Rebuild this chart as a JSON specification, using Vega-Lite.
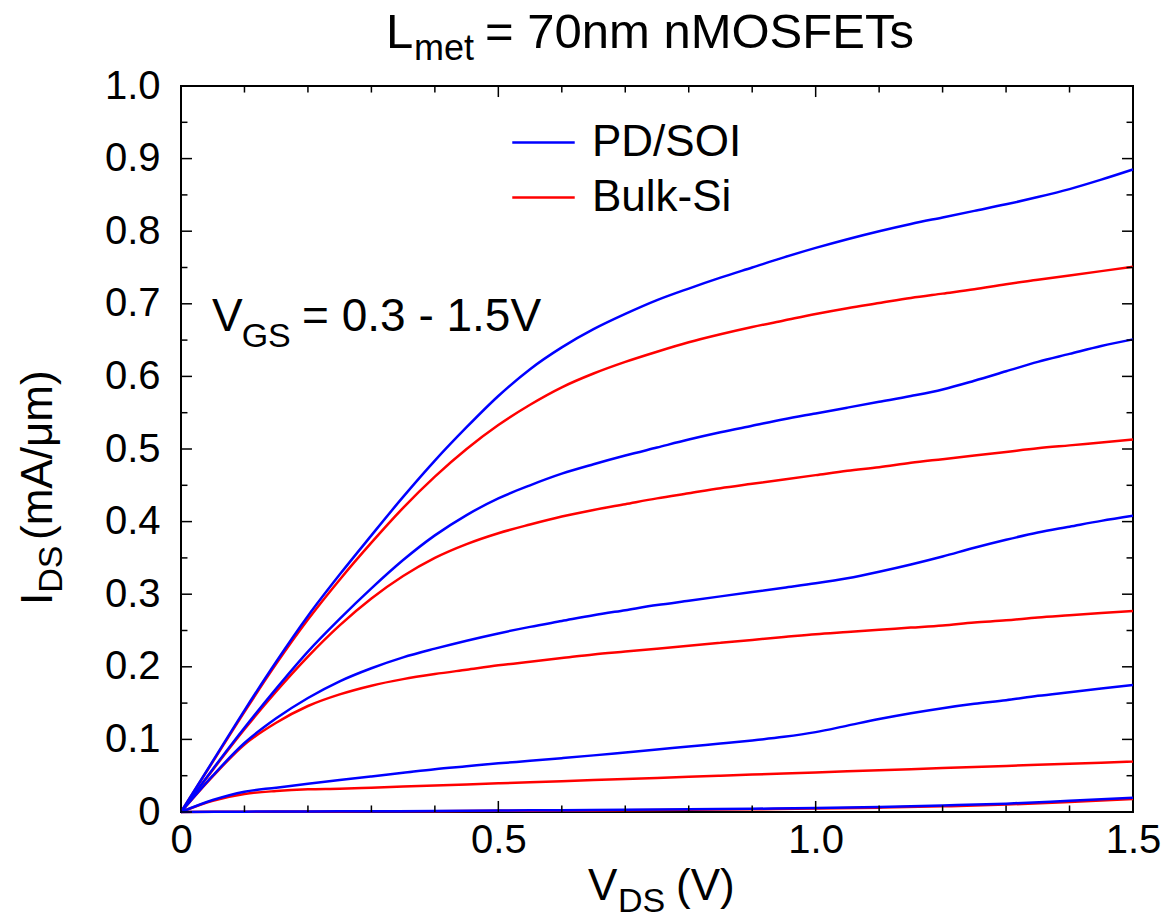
{
  "$schema": "https://vega.github.io/schema/vega-lite/v6.json",
  "width": 952,
  "height": 726,
  "autosize": {"type": "none"},
  "padding": {"left": 181, "top": 86, "right": 39, "bottom": 111},
  "background": "white",
  "config": {
    "view": {"stroke": "black", "strokeWidth": 2},
    "font": "Liberation Sans",
    "axis": {"grid": false, "domain": false, "ticks": false, "labelFont": "Liberation Sans", "labelFontSize": 40, "labelColor": "black", "labelFlush": false, "labelOverlap": false},
    "legend": {"orient": "none", "legendX": 330, "legendY": 24, "symbolType": "M-1,0L1,0", "symbolSize": 3900, "symbolStrokeWidth": 2.5, "labelFont": "Liberation Sans", "labelFontSize": 44, "labelColor": "black", "labelOffset": 16, "rowPadding": -13, "labelLimit": 0, "padding": 0}
  },
  "datasets": {
    "curves": [
      {"device":"PD/SOI","vgs":1.5,"vds":0,"ids":0},{"device":"PD/SOI","vgs":1.5,"vds":0.05,"ids":0.07},{"device":"PD/SOI","vgs":1.5,"vds":0.1,"ids":0.14},{"device":"PD/SOI","vgs":1.5,"vds":0.15,"ids":0.207},{"device":"PD/SOI","vgs":1.5,"vds":0.2,"ids":0.27},{"device":"PD/SOI","vgs":1.5,"vds":0.25,"ids":0.327},{"device":"PD/SOI","vgs":1.5,"vds":0.3,"ids":0.381},{"device":"PD/SOI","vgs":1.5,"vds":0.35,"ids":0.434},{"device":"PD/SOI","vgs":1.5,"vds":0.4,"ids":0.484},{"device":"PD/SOI","vgs":1.5,"vds":0.45,"ids":0.53},{"device":"PD/SOI","vgs":1.5,"vds":0.5,"ids":0.573},{"device":"PD/SOI","vgs":1.5,"vds":0.55,"ids":0.61},{"device":"PD/SOI","vgs":1.5,"vds":0.6,"ids":0.64},{"device":"PD/SOI","vgs":1.5,"vds":0.65,"ids":0.665},{"device":"PD/SOI","vgs":1.5,"vds":0.7,"ids":0.686},{"device":"PD/SOI","vgs":1.5,"vds":0.75,"ids":0.705},{"device":"PD/SOI","vgs":1.5,"vds":0.8,"ids":0.721},{"device":"PD/SOI","vgs":1.5,"vds":0.85,"ids":0.736},{"device":"PD/SOI","vgs":1.5,"vds":0.9,"ids":0.75},{"device":"PD/SOI","vgs":1.5,"vds":0.95,"ids":0.764},{"device":"PD/SOI","vgs":1.5,"vds":1.0,"ids":0.777},{"device":"PD/SOI","vgs":1.5,"vds":1.05,"ids":0.789},{"device":"PD/SOI","vgs":1.5,"vds":1.1,"ids":0.8},{"device":"PD/SOI","vgs":1.5,"vds":1.15,"ids":0.81},{"device":"PD/SOI","vgs":1.5,"vds":1.2,"ids":0.819},{"device":"PD/SOI","vgs":1.5,"vds":1.25,"ids":0.828},{"device":"PD/SOI","vgs":1.5,"vds":1.3,"ids":0.837},{"device":"PD/SOI","vgs":1.5,"vds":1.35,"ids":0.847},{"device":"PD/SOI","vgs":1.5,"vds":1.4,"ids":0.858},{"device":"PD/SOI","vgs":1.5,"vds":1.45,"ids":0.871},{"device":"PD/SOI","vgs":1.5,"vds":1.5,"ids":0.885},
      {"device":"Bulk-Si","vgs":1.5,"vds":0,"ids":0},{"device":"Bulk-Si","vgs":1.5,"vds":0.05,"ids":0.069},{"device":"Bulk-Si","vgs":1.5,"vds":0.1,"ids":0.138},{"device":"Bulk-Si","vgs":1.5,"vds":0.15,"ids":0.204},{"device":"Bulk-Si","vgs":1.5,"vds":0.2,"ids":0.265},{"device":"Bulk-Si","vgs":1.5,"vds":0.25,"ids":0.32},{"device":"Bulk-Si","vgs":1.5,"vds":0.3,"ids":0.371},{"device":"Bulk-Si","vgs":1.5,"vds":0.35,"ids":0.419},{"device":"Bulk-Si","vgs":1.5,"vds":0.4,"ids":0.462},{"device":"Bulk-Si","vgs":1.5,"vds":0.45,"ids":0.5},{"device":"Bulk-Si","vgs":1.5,"vds":0.5,"ids":0.533},{"device":"Bulk-Si","vgs":1.5,"vds":0.55,"ids":0.561},{"device":"Bulk-Si","vgs":1.5,"vds":0.6,"ids":0.585},{"device":"Bulk-Si","vgs":1.5,"vds":0.65,"ids":0.604},{"device":"Bulk-Si","vgs":1.5,"vds":0.7,"ids":0.62},{"device":"Bulk-Si","vgs":1.5,"vds":0.75,"ids":0.634},{"device":"Bulk-Si","vgs":1.5,"vds":0.8,"ids":0.647},{"device":"Bulk-Si","vgs":1.5,"vds":0.85,"ids":0.658},{"device":"Bulk-Si","vgs":1.5,"vds":0.9,"ids":0.668},{"device":"Bulk-Si","vgs":1.5,"vds":0.95,"ids":0.677},{"device":"Bulk-Si","vgs":1.5,"vds":1.0,"ids":0.686},{"device":"Bulk-Si","vgs":1.5,"vds":1.05,"ids":0.694},{"device":"Bulk-Si","vgs":1.5,"vds":1.1,"ids":0.701},{"device":"Bulk-Si","vgs":1.5,"vds":1.15,"ids":0.708},{"device":"Bulk-Si","vgs":1.5,"vds":1.2,"ids":0.714},{"device":"Bulk-Si","vgs":1.5,"vds":1.25,"ids":0.72},{"device":"Bulk-Si","vgs":1.5,"vds":1.3,"ids":0.727},{"device":"Bulk-Si","vgs":1.5,"vds":1.35,"ids":0.733},{"device":"Bulk-Si","vgs":1.5,"vds":1.4,"ids":0.739},{"device":"Bulk-Si","vgs":1.5,"vds":1.45,"ids":0.745},{"device":"Bulk-Si","vgs":1.5,"vds":1.5,"ids":0.751},
      {"device":"PD/SOI","vgs":1.2,"vds":0,"ids":0},{"device":"PD/SOI","vgs":1.2,"vds":0.05,"ids":0.059},{"device":"PD/SOI","vgs":1.2,"vds":0.1,"ids":0.116},{"device":"PD/SOI","vgs":1.2,"vds":0.15,"ids":0.17},{"device":"PD/SOI","vgs":1.2,"vds":0.2,"ids":0.221},{"device":"PD/SOI","vgs":1.2,"vds":0.25,"ids":0.266},{"device":"PD/SOI","vgs":1.2,"vds":0.3,"ids":0.308},{"device":"PD/SOI","vgs":1.2,"vds":0.35,"ids":0.347},{"device":"PD/SOI","vgs":1.2,"vds":0.4,"ids":0.381},{"device":"PD/SOI","vgs":1.2,"vds":0.45,"ids":0.409},{"device":"PD/SOI","vgs":1.2,"vds":0.5,"ids":0.432},{"device":"PD/SOI","vgs":1.2,"vds":0.55,"ids":0.45},{"device":"PD/SOI","vgs":1.2,"vds":0.6,"ids":0.466},{"device":"PD/SOI","vgs":1.2,"vds":0.65,"ids":0.479},{"device":"PD/SOI","vgs":1.2,"vds":0.7,"ids":0.491},{"device":"PD/SOI","vgs":1.2,"vds":0.75,"ids":0.502},{"device":"PD/SOI","vgs":1.2,"vds":0.8,"ids":0.513},{"device":"PD/SOI","vgs":1.2,"vds":0.85,"ids":0.523},{"device":"PD/SOI","vgs":1.2,"vds":0.9,"ids":0.532},{"device":"PD/SOI","vgs":1.2,"vds":0.95,"ids":0.541},{"device":"PD/SOI","vgs":1.2,"vds":1.0,"ids":0.549},{"device":"PD/SOI","vgs":1.2,"vds":1.05,"ids":0.557},{"device":"PD/SOI","vgs":1.2,"vds":1.1,"ids":0.565},{"device":"PD/SOI","vgs":1.2,"vds":1.15,"ids":0.573},{"device":"PD/SOI","vgs":1.2,"vds":1.2,"ids":0.582},{"device":"PD/SOI","vgs":1.2,"vds":1.25,"ids":0.594},{"device":"PD/SOI","vgs":1.2,"vds":1.3,"ids":0.607},{"device":"PD/SOI","vgs":1.2,"vds":1.35,"ids":0.62},{"device":"PD/SOI","vgs":1.2,"vds":1.4,"ids":0.631},{"device":"PD/SOI","vgs":1.2,"vds":1.45,"ids":0.642},{"device":"PD/SOI","vgs":1.2,"vds":1.5,"ids":0.651},
      {"device":"Bulk-Si","vgs":1.2,"vds":0,"ids":0},{"device":"Bulk-Si","vgs":1.2,"vds":0.05,"ids":0.058},{"device":"Bulk-Si","vgs":1.2,"vds":0.1,"ids":0.114},{"device":"Bulk-Si","vgs":1.2,"vds":0.15,"ids":0.166},{"device":"Bulk-Si","vgs":1.2,"vds":0.2,"ids":0.214},{"device":"Bulk-Si","vgs":1.2,"vds":0.25,"ids":0.257},{"device":"Bulk-Si","vgs":1.2,"vds":0.3,"ids":0.294},{"device":"Bulk-Si","vgs":1.2,"vds":0.35,"ids":0.325},{"device":"Bulk-Si","vgs":1.2,"vds":0.4,"ids":0.35},{"device":"Bulk-Si","vgs":1.2,"vds":0.45,"ids":0.369},{"device":"Bulk-Si","vgs":1.2,"vds":0.5,"ids":0.384},{"device":"Bulk-Si","vgs":1.2,"vds":0.55,"ids":0.396},{"device":"Bulk-Si","vgs":1.2,"vds":0.6,"ids":0.407},{"device":"Bulk-Si","vgs":1.2,"vds":0.65,"ids":0.416},{"device":"Bulk-Si","vgs":1.2,"vds":0.7,"ids":0.424},{"device":"Bulk-Si","vgs":1.2,"vds":0.75,"ids":0.432},{"device":"Bulk-Si","vgs":1.2,"vds":0.8,"ids":0.439},{"device":"Bulk-Si","vgs":1.2,"vds":0.85,"ids":0.446},{"device":"Bulk-Si","vgs":1.2,"vds":0.9,"ids":0.452},{"device":"Bulk-Si","vgs":1.2,"vds":0.95,"ids":0.458},{"device":"Bulk-Si","vgs":1.2,"vds":1.0,"ids":0.464},{"device":"Bulk-Si","vgs":1.2,"vds":1.05,"ids":0.47},{"device":"Bulk-Si","vgs":1.2,"vds":1.1,"ids":0.475},{"device":"Bulk-Si","vgs":1.2,"vds":1.15,"ids":0.481},{"device":"Bulk-Si","vgs":1.2,"vds":1.2,"ids":0.486},{"device":"Bulk-Si","vgs":1.2,"vds":1.25,"ids":0.491},{"device":"Bulk-Si","vgs":1.2,"vds":1.3,"ids":0.496},{"device":"Bulk-Si","vgs":1.2,"vds":1.35,"ids":0.501},{"device":"Bulk-Si","vgs":1.2,"vds":1.4,"ids":0.505},{"device":"Bulk-Si","vgs":1.2,"vds":1.45,"ids":0.509},{"device":"Bulk-Si","vgs":1.2,"vds":1.5,"ids":0.513},
      {"device":"PD/SOI","vgs":0.9,"vds":0,"ids":0},{"device":"PD/SOI","vgs":0.9,"vds":0.05,"ids":0.05},{"device":"PD/SOI","vgs":0.9,"vds":0.1,"ids":0.095},{"device":"PD/SOI","vgs":0.9,"vds":0.15,"ids":0.129},{"device":"PD/SOI","vgs":0.9,"vds":0.2,"ids":0.157},{"device":"PD/SOI","vgs":0.9,"vds":0.25,"ids":0.18},{"device":"PD/SOI","vgs":0.9,"vds":0.3,"ids":0.198},{"device":"PD/SOI","vgs":0.9,"vds":0.35,"ids":0.213},{"device":"PD/SOI","vgs":0.9,"vds":0.4,"ids":0.225},{"device":"PD/SOI","vgs":0.9,"vds":0.45,"ids":0.236},{"device":"PD/SOI","vgs":0.9,"vds":0.5,"ids":0.246},{"device":"PD/SOI","vgs":0.9,"vds":0.55,"ids":0.255},{"device":"PD/SOI","vgs":0.9,"vds":0.6,"ids":0.263},{"device":"PD/SOI","vgs":0.9,"vds":0.65,"ids":0.271},{"device":"PD/SOI","vgs":0.9,"vds":0.7,"ids":0.278},{"device":"PD/SOI","vgs":0.9,"vds":0.75,"ids":0.285},{"device":"PD/SOI","vgs":0.9,"vds":0.8,"ids":0.291},{"device":"PD/SOI","vgs":0.9,"vds":0.85,"ids":0.297},{"device":"PD/SOI","vgs":0.9,"vds":0.9,"ids":0.303},{"device":"PD/SOI","vgs":0.9,"vds":0.95,"ids":0.309},{"device":"PD/SOI","vgs":0.9,"vds":1.0,"ids":0.315},{"device":"PD/SOI","vgs":0.9,"vds":1.05,"ids":0.322},{"device":"PD/SOI","vgs":0.9,"vds":1.1,"ids":0.331},{"device":"PD/SOI","vgs":0.9,"vds":1.15,"ids":0.341},{"device":"PD/SOI","vgs":0.9,"vds":1.2,"ids":0.352},{"device":"PD/SOI","vgs":0.9,"vds":1.25,"ids":0.364},{"device":"PD/SOI","vgs":0.9,"vds":1.3,"ids":0.375},{"device":"PD/SOI","vgs":0.9,"vds":1.35,"ids":0.385},{"device":"PD/SOI","vgs":0.9,"vds":1.4,"ids":0.393},{"device":"PD/SOI","vgs":0.9,"vds":1.45,"ids":0.401},{"device":"PD/SOI","vgs":0.9,"vds":1.5,"ids":0.408},
      {"device":"Bulk-Si","vgs":0.9,"vds":0,"ids":0},{"device":"Bulk-Si","vgs":0.9,"vds":0.05,"ids":0.049},{"device":"Bulk-Si","vgs":0.9,"vds":0.1,"ids":0.093},{"device":"Bulk-Si","vgs":0.9,"vds":0.15,"ids":0.123},{"device":"Bulk-Si","vgs":0.9,"vds":0.2,"ids":0.146},{"device":"Bulk-Si","vgs":0.9,"vds":0.25,"ids":0.162},{"device":"Bulk-Si","vgs":0.9,"vds":0.3,"ids":0.174},{"device":"Bulk-Si","vgs":0.9,"vds":0.35,"ids":0.183},{"device":"Bulk-Si","vgs":0.9,"vds":0.4,"ids":0.19},{"device":"Bulk-Si","vgs":0.9,"vds":0.45,"ids":0.196},{"device":"Bulk-Si","vgs":0.9,"vds":0.5,"ids":0.202},{"device":"Bulk-Si","vgs":0.9,"vds":0.55,"ids":0.207},{"device":"Bulk-Si","vgs":0.9,"vds":0.6,"ids":0.212},{"device":"Bulk-Si","vgs":0.9,"vds":0.65,"ids":0.217},{"device":"Bulk-Si","vgs":0.9,"vds":0.7,"ids":0.221},{"device":"Bulk-Si","vgs":0.9,"vds":0.75,"ids":0.225},{"device":"Bulk-Si","vgs":0.9,"vds":0.8,"ids":0.229},{"device":"Bulk-Si","vgs":0.9,"vds":0.85,"ids":0.233},{"device":"Bulk-Si","vgs":0.9,"vds":0.9,"ids":0.237},{"device":"Bulk-Si","vgs":0.9,"vds":0.95,"ids":0.241},{"device":"Bulk-Si","vgs":0.9,"vds":1.0,"ids":0.245},{"device":"Bulk-Si","vgs":0.9,"vds":1.05,"ids":0.248},{"device":"Bulk-Si","vgs":0.9,"vds":1.1,"ids":0.251},{"device":"Bulk-Si","vgs":0.9,"vds":1.15,"ids":0.254},{"device":"Bulk-Si","vgs":0.9,"vds":1.2,"ids":0.257},{"device":"Bulk-Si","vgs":0.9,"vds":1.25,"ids":0.261},{"device":"Bulk-Si","vgs":0.9,"vds":1.3,"ids":0.264},{"device":"Bulk-Si","vgs":0.9,"vds":1.35,"ids":0.268},{"device":"Bulk-Si","vgs":0.9,"vds":1.4,"ids":0.271},{"device":"Bulk-Si","vgs":0.9,"vds":1.45,"ids":0.274},{"device":"Bulk-Si","vgs":0.9,"vds":1.5,"ids":0.277},
      {"device":"PD/SOI","vgs":0.6,"vds":0,"ids":0},{"device":"PD/SOI","vgs":0.6,"vds":0.05,"ids":0.0165},{"device":"PD/SOI","vgs":0.6,"vds":0.1,"ids":0.028},{"device":"PD/SOI","vgs":0.6,"vds":0.15,"ids":0.0335},{"device":"PD/SOI","vgs":0.6,"vds":0.2,"ids":0.039},{"device":"PD/SOI","vgs":0.6,"vds":0.25,"ids":0.044},{"device":"PD/SOI","vgs":0.6,"vds":0.3,"ids":0.049},{"device":"PD/SOI","vgs":0.6,"vds":0.35,"ids":0.054},{"device":"PD/SOI","vgs":0.6,"vds":0.4,"ids":0.059},{"device":"PD/SOI","vgs":0.6,"vds":0.45,"ids":0.063},{"device":"PD/SOI","vgs":0.6,"vds":0.5,"ids":0.067},{"device":"PD/SOI","vgs":0.6,"vds":0.55,"ids":0.0705},{"device":"PD/SOI","vgs":0.6,"vds":0.6,"ids":0.0742},{"device":"PD/SOI","vgs":0.6,"vds":0.65,"ids":0.078},{"device":"PD/SOI","vgs":0.6,"vds":0.7,"ids":0.082},{"device":"PD/SOI","vgs":0.6,"vds":0.75,"ids":0.086},{"device":"PD/SOI","vgs":0.6,"vds":0.8,"ids":0.0903},{"device":"PD/SOI","vgs":0.6,"vds":0.85,"ids":0.0943},{"device":"PD/SOI","vgs":0.6,"vds":0.9,"ids":0.0985},{"device":"PD/SOI","vgs":0.6,"vds":0.95,"ids":0.1035},{"device":"PD/SOI","vgs":0.6,"vds":1.0,"ids":0.11},{"device":"PD/SOI","vgs":0.6,"vds":1.05,"ids":0.119},{"device":"PD/SOI","vgs":0.6,"vds":1.1,"ids":0.128},{"device":"PD/SOI","vgs":0.6,"vds":1.15,"ids":0.136},{"device":"PD/SOI","vgs":0.6,"vds":1.2,"ids":0.143},{"device":"PD/SOI","vgs":0.6,"vds":1.25,"ids":0.149},{"device":"PD/SOI","vgs":0.6,"vds":1.3,"ids":0.154},{"device":"PD/SOI","vgs":0.6,"vds":1.35,"ids":0.16},{"device":"PD/SOI","vgs":0.6,"vds":1.4,"ids":0.165},{"device":"PD/SOI","vgs":0.6,"vds":1.45,"ids":0.17},{"device":"PD/SOI","vgs":0.6,"vds":1.5,"ids":0.175},
      {"device":"Bulk-Si","vgs":0.6,"vds":0,"ids":0},{"device":"Bulk-Si","vgs":0.6,"vds":0.05,"ids":0.0155},{"device":"Bulk-Si","vgs":0.6,"vds":0.1,"ids":0.0248},{"device":"Bulk-Si","vgs":0.6,"vds":0.15,"ids":0.0289},{"device":"Bulk-Si","vgs":0.6,"vds":0.2,"ids":0.0312},{"device":"Bulk-Si","vgs":0.6,"vds":0.25,"ids":0.032},{"device":"Bulk-Si","vgs":0.6,"vds":0.3,"ids":0.0335},{"device":"Bulk-Si","vgs":0.6,"vds":0.35,"ids":0.035},{"device":"Bulk-Si","vgs":0.6,"vds":0.4,"ids":0.0365},{"device":"Bulk-Si","vgs":0.6,"vds":0.45,"ids":0.038},{"device":"Bulk-Si","vgs":0.6,"vds":0.5,"ids":0.0395},{"device":"Bulk-Si","vgs":0.6,"vds":0.55,"ids":0.041},{"device":"Bulk-Si","vgs":0.6,"vds":0.6,"ids":0.0425},{"device":"Bulk-Si","vgs":0.6,"vds":0.65,"ids":0.044},{"device":"Bulk-Si","vgs":0.6,"vds":0.7,"ids":0.0455},{"device":"Bulk-Si","vgs":0.6,"vds":0.75,"ids":0.047},{"device":"Bulk-Si","vgs":0.6,"vds":0.8,"ids":0.0485},{"device":"Bulk-Si","vgs":0.6,"vds":0.85,"ids":0.05},{"device":"Bulk-Si","vgs":0.6,"vds":0.9,"ids":0.0515},{"device":"Bulk-Si","vgs":0.6,"vds":0.95,"ids":0.053},{"device":"Bulk-Si","vgs":0.6,"vds":1.0,"ids":0.0545},{"device":"Bulk-Si","vgs":0.6,"vds":1.05,"ids":0.056},{"device":"Bulk-Si","vgs":0.6,"vds":1.1,"ids":0.0575},{"device":"Bulk-Si","vgs":0.6,"vds":1.15,"ids":0.059},{"device":"Bulk-Si","vgs":0.6,"vds":1.2,"ids":0.0605},{"device":"Bulk-Si","vgs":0.6,"vds":1.25,"ids":0.062},{"device":"Bulk-Si","vgs":0.6,"vds":1.3,"ids":0.0635},{"device":"Bulk-Si","vgs":0.6,"vds":1.35,"ids":0.065},{"device":"Bulk-Si","vgs":0.6,"vds":1.4,"ids":0.0665},{"device":"Bulk-Si","vgs":0.6,"vds":1.45,"ids":0.068},{"device":"Bulk-Si","vgs":0.6,"vds":1.5,"ids":0.0695},
      {"device":"PD/SOI","vgs":0.3,"vds":0,"ids":0},{"device":"PD/SOI","vgs":0.3,"vds":0.1,"ids":0.0005},{"device":"PD/SOI","vgs":0.3,"vds":0.2,"ids":0.0008},{"device":"PD/SOI","vgs":0.3,"vds":0.3,"ids":0.001},{"device":"PD/SOI","vgs":0.3,"vds":0.4,"ids":0.0015},{"device":"PD/SOI","vgs":0.3,"vds":0.5,"ids":0.002},{"device":"PD/SOI","vgs":0.3,"vds":0.6,"ids":0.0025},{"device":"PD/SOI","vgs":0.3,"vds":0.7,"ids":0.003},{"device":"PD/SOI","vgs":0.3,"vds":0.8,"ids":0.0038},{"device":"PD/SOI","vgs":0.3,"vds":0.9,"ids":0.0045},{"device":"PD/SOI","vgs":0.3,"vds":1.0,"ids":0.0055},{"device":"PD/SOI","vgs":0.3,"vds":1.1,"ids":0.007},{"device":"PD/SOI","vgs":0.3,"vds":1.2,"ids":0.009},{"device":"PD/SOI","vgs":0.3,"vds":1.3,"ids":0.0115},{"device":"PD/SOI","vgs":0.3,"vds":1.4,"ids":0.0155},{"device":"PD/SOI","vgs":0.3,"vds":1.5,"ids":0.0197},
      {"device":"Bulk-Si","vgs":0.3,"vds":0,"ids":0},{"device":"Bulk-Si","vgs":0.3,"vds":0.1,"ids":0.0004},{"device":"Bulk-Si","vgs":0.3,"vds":0.2,"ids":0.0007},{"device":"Bulk-Si","vgs":0.3,"vds":0.3,"ids":0.0009},{"device":"Bulk-Si","vgs":0.3,"vds":0.4,"ids":0.0012},{"device":"Bulk-Si","vgs":0.3,"vds":0.5,"ids":0.0016},{"device":"Bulk-Si","vgs":0.3,"vds":0.6,"ids":0.002},{"device":"Bulk-Si","vgs":0.3,"vds":0.7,"ids":0.0025},{"device":"Bulk-Si","vgs":0.3,"vds":0.8,"ids":0.0031},{"device":"Bulk-Si","vgs":0.3,"vds":0.9,"ids":0.0038},{"device":"Bulk-Si","vgs":0.3,"vds":1.0,"ids":0.0047},{"device":"Bulk-Si","vgs":0.3,"vds":1.1,"ids":0.006},{"device":"Bulk-Si","vgs":0.3,"vds":1.2,"ids":0.0078},{"device":"Bulk-Si","vgs":0.3,"vds":1.3,"ids":0.0102},{"device":"Bulk-Si","vgs":0.3,"vds":1.4,"ids":0.0138},{"device":"Bulk-Si","vgs":0.3,"vds":1.5,"ids":0.018}
    ],
    "tickmarks": [
      {"axis":"x","kind":"major","value":0},{"axis":"x","kind":"major","value":0.5},{"axis":"x","kind":"major","value":1.0},{"axis":"x","kind":"major","value":1.5},
      {"axis":"x","kind":"minor","value":0.1},{"axis":"x","kind":"minor","value":0.2},{"axis":"x","kind":"minor","value":0.3},{"axis":"x","kind":"minor","value":0.4},{"axis":"x","kind":"minor","value":0.6},{"axis":"x","kind":"minor","value":0.7},{"axis":"x","kind":"minor","value":0.8},{"axis":"x","kind":"minor","value":0.9},{"axis":"x","kind":"minor","value":1.1},{"axis":"x","kind":"minor","value":1.2},{"axis":"x","kind":"minor","value":1.3},{"axis":"x","kind":"minor","value":1.4},
      {"axis":"y","kind":"major","value":0},{"axis":"y","kind":"major","value":0.1},{"axis":"y","kind":"major","value":0.2},{"axis":"y","kind":"major","value":0.3},{"axis":"y","kind":"major","value":0.4},{"axis":"y","kind":"major","value":0.5},{"axis":"y","kind":"major","value":0.6},{"axis":"y","kind":"major","value":0.7},{"axis":"y","kind":"major","value":0.8},{"axis":"y","kind":"major","value":0.9},{"axis":"y","kind":"major","value":1.0},
      {"axis":"y","kind":"minor","value":0.05},{"axis":"y","kind":"minor","value":0.15},{"axis":"y","kind":"minor","value":0.25},{"axis":"y","kind":"minor","value":0.35},{"axis":"y","kind":"minor","value":0.45},{"axis":"y","kind":"minor","value":0.55},{"axis":"y","kind":"minor","value":0.65},{"axis":"y","kind":"minor","value":0.75},{"axis":"y","kind":"minor","value":0.85},{"axis":"y","kind":"minor","value":0.95}
    ],
    "titleMain": [
      {"label": "L", "x": 0.323, "y": 1.0523},
      {"label": "= 70nm nMOSFETs", "x": 0.479, "y": 1.0523}
    ],
    "titleSub": [
      {"label": "met", "x": 0.3671, "y": 1.0358}
    ],
    "noteMain": [
      {"label": "V", "x": 0.0488, "y": 0.6622},
      {"label": "= 0.3 - 1.5V", "x": 0.1907, "y": 0.6622}
    ],
    "axisMain": [
      {"label": "V", "x": 0.6413, "y": -0.1212},
      {"label": "(V)", "x": 0.78, "y": -0.1212}
    ],
    "subText": [
      {"label": "GS", "x": 0.0956, "y": 0.6409},
      {"label": "DS", "x": 0.6886, "y": -0.1377}
    ],
    "rotMain": [
      {"label": "I", "x": -0.2033, "y": 0.2851},
      {"label": "(mA/μm)", "x": -0.2033, "y": 0.3747}
    ],
    "rotSub": [
      {"label": "DS", "x": -0.1875, "y": 0.3019}
    ]
  },
  "layer": [
    {
      "data": {"name": "curves"},
      "transform": [{"filter": "datum.device === 'Bulk-Si'"}],
      "mark": {"type": "line", "strokeWidth": 2.5, "interpolate": "monotone"},
      "encoding": {
        "x": {"field": "vds", "type": "quantitative", "scale": {"domain": [0, 1.5], "nice": false, "zero": false},
              "axis": {"orient": "bottom", "title": null, "values": [0, 0.5, 1.0, 1.5], "ticks": false, "labelPadding": 8, "labelExpr": "datum.value == 0 ? '0' : format(datum.value, '.1f')"}},
        "y": {"field": "ids", "type": "quantitative", "scale": {"domain": [0, 1], "nice": false, "zero": false},
              "axis": {"orient": "left", "title": null, "values": [0, 0.1, 0.2, 0.3, 0.4, 0.5, 0.6, 0.7, 0.8, 0.9, 1.0], "ticks": false, "labelPadding": 21, "labelExpr": "datum.value == 0 ? '0' : format(datum.value, '.1f')"}},
        "color": {"field": "device", "type": "nominal", "scale": {"domain": ["PD/SOI", "Bulk-Si"], "range": ["#0000ff", "#ff0000"]}, "legend": {"title": null}},
        "detail": {"field": "vgs"}
      }
    },
    {
      "data": {"name": "curves"},
      "transform": [{"filter": "datum.device === 'PD/SOI'"}],
      "mark": {"type": "line", "strokeWidth": 2.5, "interpolate": "monotone"},
      "encoding": {
        "x": {"field": "vds", "type": "quantitative", "scale": {"domain": [0, 1.5], "nice": false, "zero": false},
              "axis": {"orient": "bottom", "title": null, "values": [0, 0.5, 1.0, 1.5], "ticks": false, "labelPadding": 8, "labelExpr": "datum.value == 0 ? '0' : format(datum.value, '.1f')"}},
        "y": {"field": "ids", "type": "quantitative", "scale": {"domain": [0, 1], "nice": false, "zero": false},
              "axis": {"orient": "left", "title": null, "values": [0, 0.1, 0.2, 0.3, 0.4, 0.5, 0.6, 0.7, 0.8, 0.9, 1.0], "ticks": false, "labelPadding": 21, "labelExpr": "datum.value == 0 ? '0' : format(datum.value, '.1f')"}},
        "color": {"field": "device", "type": "nominal", "scale": {"domain": ["PD/SOI", "Bulk-Si"], "range": ["#0000ff", "#ff0000"]}, "legend": {"title": null}},
        "detail": {"field": "vgs"}
      }
    },
    {
      "data": {"name": "tickmarks"},
      "transform": [{"filter": "datum.axis === 'x' && datum.kind === 'major'"}],
      "mark": {"type": "rule", "strokeWidth": 1.5, "color": "black"},
      "encoding": {
        "x": {"field": "value", "type": "quantitative", "scale": {"domain": [0, 1.5], "nice": false, "zero": false},
              "axis": {"orient": "bottom", "title": null, "values": [0, 0.5, 1.0, 1.5], "ticks": false, "labelPadding": 8, "labelExpr": "datum.value == 0 ? '0' : format(datum.value, '.1f')"}},
        "y": {"datum": 0, "type": "quantitative", "scale": {"domain": [0, 1], "nice": false, "zero": false},
              "axis": {"orient": "left", "title": null, "values": [0, 0.1, 0.2, 0.3, 0.4, 0.5, 0.6, 0.7, 0.8, 0.9, 1.0], "ticks": false, "labelPadding": 21, "labelExpr": "datum.value == 0 ? '0' : format(datum.value, '.1f')"}},
        "y2": {"datum": 0.0152}
      }
    },
    {
      "data": {"name": "tickmarks"},
      "transform": [{"filter": "datum.axis === 'x' && datum.kind === 'major'"}],
      "mark": {"type": "rule", "strokeWidth": 1.5, "color": "black"},
      "encoding": {
        "x": {"field": "value", "type": "quantitative", "scale": {"domain": [0, 1.5], "nice": false, "zero": false},
              "axis": {"orient": "bottom", "title": null, "values": [0, 0.5, 1.0, 1.5], "ticks": false, "labelPadding": 8, "labelExpr": "datum.value == 0 ? '0' : format(datum.value, '.1f')"}},
        "y": {"datum": 1, "type": "quantitative", "scale": {"domain": [0, 1], "nice": false, "zero": false},
              "axis": {"orient": "left", "title": null, "values": [0, 0.1, 0.2, 0.3, 0.4, 0.5, 0.6, 0.7, 0.8, 0.9, 1.0], "ticks": false, "labelPadding": 21, "labelExpr": "datum.value == 0 ? '0' : format(datum.value, '.1f')"}},
        "y2": {"datum": 0.9848}
      }
    },
    {
      "data": {"name": "tickmarks"},
      "transform": [{"filter": "datum.axis === 'x' && datum.kind === 'minor'"}],
      "mark": {"type": "rule", "strokeWidth": 1.5, "color": "black"},
      "encoding": {
        "x": {"field": "value", "type": "quantitative", "scale": {"domain": [0, 1.5], "nice": false, "zero": false},
              "axis": {"orient": "bottom", "title": null, "values": [0, 0.5, 1.0, 1.5], "ticks": false, "labelPadding": 8, "labelExpr": "datum.value == 0 ? '0' : format(datum.value, '.1f')"}},
        "y": {"datum": 0, "type": "quantitative", "scale": {"domain": [0, 1], "nice": false, "zero": false},
              "axis": {"orient": "left", "title": null, "values": [0, 0.1, 0.2, 0.3, 0.4, 0.5, 0.6, 0.7, 0.8, 0.9, 1.0], "ticks": false, "labelPadding": 21, "labelExpr": "datum.value == 0 ? '0' : format(datum.value, '.1f')"}},
        "y2": {"datum": 0.009}
      }
    },
    {
      "data": {"name": "tickmarks"},
      "transform": [{"filter": "datum.axis === 'x' && datum.kind === 'minor'"}],
      "mark": {"type": "rule", "strokeWidth": 1.5, "color": "black"},
      "encoding": {
        "x": {"field": "value", "type": "quantitative", "scale": {"domain": [0, 1.5], "nice": false, "zero": false},
              "axis": {"orient": "bottom", "title": null, "values": [0, 0.5, 1.0, 1.5], "ticks": false, "labelPadding": 8, "labelExpr": "datum.value == 0 ? '0' : format(datum.value, '.1f')"}},
        "y": {"datum": 1, "type": "quantitative", "scale": {"domain": [0, 1], "nice": false, "zero": false},
              "axis": {"orient": "left", "title": null, "values": [0, 0.1, 0.2, 0.3, 0.4, 0.5, 0.6, 0.7, 0.8, 0.9, 1.0], "ticks": false, "labelPadding": 21, "labelExpr": "datum.value == 0 ? '0' : format(datum.value, '.1f')"}},
        "y2": {"datum": 0.991}
      }
    },
    {
      "data": {"name": "tickmarks"},
      "transform": [{"filter": "datum.axis === 'y' && datum.kind === 'major'"}],
      "mark": {"type": "rule", "strokeWidth": 1.5, "color": "black"},
      "encoding": {
        "y": {"field": "value", "type": "quantitative", "scale": {"domain": [0, 1], "nice": false, "zero": false},
              "axis": {"orient": "left", "title": null, "values": [0, 0.1, 0.2, 0.3, 0.4, 0.5, 0.6, 0.7, 0.8, 0.9, 1.0], "ticks": false, "labelPadding": 21, "labelExpr": "datum.value == 0 ? '0' : format(datum.value, '.1f')"}},
        "x": {"datum": 0, "type": "quantitative", "scale": {"domain": [0, 1.5], "nice": false, "zero": false},
              "axis": {"orient": "bottom", "title": null, "values": [0, 0.5, 1.0, 1.5], "ticks": false, "labelPadding": 8, "labelExpr": "datum.value == 0 ? '0' : format(datum.value, '.1f')"}},
        "x2": {"datum": 0.0173}
      }
    },
    {
      "data": {"name": "tickmarks"},
      "transform": [{"filter": "datum.axis === 'y' && datum.kind === 'major'"}],
      "mark": {"type": "rule", "strokeWidth": 1.5, "color": "black"},
      "encoding": {
        "y": {"field": "value", "type": "quantitative", "scale": {"domain": [0, 1], "nice": false, "zero": false},
              "axis": {"orient": "left", "title": null, "values": [0, 0.1, 0.2, 0.3, 0.4, 0.5, 0.6, 0.7, 0.8, 0.9, 1.0], "ticks": false, "labelPadding": 21, "labelExpr": "datum.value == 0 ? '0' : format(datum.value, '.1f')"}},
        "x": {"datum": 1.5, "type": "quantitative", "scale": {"domain": [0, 1.5], "nice": false, "zero": false},
              "axis": {"orient": "bottom", "title": null, "values": [0, 0.5, 1.0, 1.5], "ticks": false, "labelPadding": 8, "labelExpr": "datum.value == 0 ? '0' : format(datum.value, '.1f')"}},
        "x2": {"datum": 1.4827}
      }
    },
    {
      "data": {"name": "tickmarks"},
      "transform": [{"filter": "datum.axis === 'y' && datum.kind === 'minor'"}],
      "mark": {"type": "rule", "strokeWidth": 1.5, "color": "black"},
      "encoding": {
        "y": {"field": "value", "type": "quantitative", "scale": {"domain": [0, 1], "nice": false, "zero": false},
              "axis": {"orient": "left", "title": null, "values": [0, 0.1, 0.2, 0.3, 0.4, 0.5, 0.6, 0.7, 0.8, 0.9, 1.0], "ticks": false, "labelPadding": 21, "labelExpr": "datum.value == 0 ? '0' : format(datum.value, '.1f')"}},
        "x": {"datum": 0, "type": "quantitative", "scale": {"domain": [0, 1.5], "nice": false, "zero": false},
              "axis": {"orient": "bottom", "title": null, "values": [0, 0.5, 1.0, 1.5], "ticks": false, "labelPadding": 8, "labelExpr": "datum.value == 0 ? '0' : format(datum.value, '.1f')"}},
        "x2": {"datum": 0.0102}
      }
    },
    {
      "data": {"name": "tickmarks"},
      "transform": [{"filter": "datum.axis === 'y' && datum.kind === 'minor'"}],
      "mark": {"type": "rule", "strokeWidth": 1.5, "color": "black"},
      "encoding": {
        "y": {"field": "value", "type": "quantitative", "scale": {"domain": [0, 1], "nice": false, "zero": false},
              "axis": {"orient": "left", "title": null, "values": [0, 0.1, 0.2, 0.3, 0.4, 0.5, 0.6, 0.7, 0.8, 0.9, 1.0], "ticks": false, "labelPadding": 21, "labelExpr": "datum.value == 0 ? '0' : format(datum.value, '.1f')"}},
        "x": {"datum": 1.5, "type": "quantitative", "scale": {"domain": [0, 1.5], "nice": false, "zero": false},
              "axis": {"orient": "bottom", "title": null, "values": [0, 0.5, 1.0, 1.5], "ticks": false, "labelPadding": 8, "labelExpr": "datum.value == 0 ? '0' : format(datum.value, '.1f')"}},
        "x2": {"datum": 1.4898}
      }
    },
    {
      "data": {"name": "titleMain"},
      "mark": {"type": "text", "align": "left", "baseline": "alphabetic", "fontSize": 49, "font": "Liberation Sans", "color": "black"},
      "encoding": {
        "x": {"field": "x", "type": "quantitative", "scale": {"domain": [0, 1.5], "nice": false, "zero": false},
              "axis": {"orient": "bottom", "title": null, "values": [0, 0.5, 1.0, 1.5], "ticks": false, "labelPadding": 8, "labelExpr": "datum.value == 0 ? '0' : format(datum.value, '.1f')"}},
        "y": {"field": "y", "type": "quantitative", "scale": {"domain": [0, 1], "nice": false, "zero": false},
              "axis": {"orient": "left", "title": null, "values": [0, 0.1, 0.2, 0.3, 0.4, 0.5, 0.6, 0.7, 0.8, 0.9, 1.0], "ticks": false, "labelPadding": 21, "labelExpr": "datum.value == 0 ? '0' : format(datum.value, '.1f')"}},
        "text": {"field": "label"}
      }
    },
    {
      "data": {"name": "titleSub"},
      "mark": {"type": "text", "align": "left", "baseline": "alphabetic", "fontSize": 36, "font": "Liberation Sans", "color": "black"},
      "encoding": {
        "x": {"field": "x", "type": "quantitative", "scale": {"domain": [0, 1.5], "nice": false, "zero": false},
              "axis": {"orient": "bottom", "title": null, "values": [0, 0.5, 1.0, 1.5], "ticks": false, "labelPadding": 8, "labelExpr": "datum.value == 0 ? '0' : format(datum.value, '.1f')"}},
        "y": {"field": "y", "type": "quantitative", "scale": {"domain": [0, 1], "nice": false, "zero": false},
              "axis": {"orient": "left", "title": null, "values": [0, 0.1, 0.2, 0.3, 0.4, 0.5, 0.6, 0.7, 0.8, 0.9, 1.0], "ticks": false, "labelPadding": 21, "labelExpr": "datum.value == 0 ? '0' : format(datum.value, '.1f')"}},
        "text": {"field": "label"}
      }
    },
    {
      "data": {"name": "noteMain"},
      "mark": {"type": "text", "align": "left", "baseline": "alphabetic", "fontSize": 46, "font": "Liberation Sans", "color": "black"},
      "encoding": {
        "x": {"field": "x", "type": "quantitative", "scale": {"domain": [0, 1.5], "nice": false, "zero": false},
              "axis": {"orient": "bottom", "title": null, "values": [0, 0.5, 1.0, 1.5], "ticks": false, "labelPadding": 8, "labelExpr": "datum.value == 0 ? '0' : format(datum.value, '.1f')"}},
        "y": {"field": "y", "type": "quantitative", "scale": {"domain": [0, 1], "nice": false, "zero": false},
              "axis": {"orient": "left", "title": null, "values": [0, 0.1, 0.2, 0.3, 0.4, 0.5, 0.6, 0.7, 0.8, 0.9, 1.0], "ticks": false, "labelPadding": 21, "labelExpr": "datum.value == 0 ? '0' : format(datum.value, '.1f')"}},
        "text": {"field": "label"}
      }
    },
    {
      "data": {"name": "axisMain"},
      "mark": {"type": "text", "align": "left", "baseline": "alphabetic", "fontSize": 44, "font": "Liberation Sans", "color": "black"},
      "encoding": {
        "x": {"field": "x", "type": "quantitative", "scale": {"domain": [0, 1.5], "nice": false, "zero": false},
              "axis": {"orient": "bottom", "title": null, "values": [0, 0.5, 1.0, 1.5], "ticks": false, "labelPadding": 8, "labelExpr": "datum.value == 0 ? '0' : format(datum.value, '.1f')"}},
        "y": {"field": "y", "type": "quantitative", "scale": {"domain": [0, 1], "nice": false, "zero": false},
              "axis": {"orient": "left", "title": null, "values": [0, 0.1, 0.2, 0.3, 0.4, 0.5, 0.6, 0.7, 0.8, 0.9, 1.0], "ticks": false, "labelPadding": 21, "labelExpr": "datum.value == 0 ? '0' : format(datum.value, '.1f')"}},
        "text": {"field": "label"}
      }
    },
    {
      "data": {"name": "subText"},
      "mark": {"type": "text", "align": "left", "baseline": "alphabetic", "fontSize": 34, "font": "Liberation Sans", "color": "black"},
      "encoding": {
        "x": {"field": "x", "type": "quantitative", "scale": {"domain": [0, 1.5], "nice": false, "zero": false},
              "axis": {"orient": "bottom", "title": null, "values": [0, 0.5, 1.0, 1.5], "ticks": false, "labelPadding": 8, "labelExpr": "datum.value == 0 ? '0' : format(datum.value, '.1f')"}},
        "y": {"field": "y", "type": "quantitative", "scale": {"domain": [0, 1], "nice": false, "zero": false},
              "axis": {"orient": "left", "title": null, "values": [0, 0.1, 0.2, 0.3, 0.4, 0.5, 0.6, 0.7, 0.8, 0.9, 1.0], "ticks": false, "labelPadding": 21, "labelExpr": "datum.value == 0 ? '0' : format(datum.value, '.1f')"}},
        "text": {"field": "label"}
      }
    },
    {
      "data": {"name": "rotMain"},
      "mark": {"type": "text", "align": "left", "baseline": "alphabetic", "angle": 270, "fontSize": 44, "font": "Liberation Sans", "color": "black"},
      "encoding": {
        "x": {"field": "x", "type": "quantitative", "scale": {"domain": [0, 1.5], "nice": false, "zero": false},
              "axis": {"orient": "bottom", "title": null, "values": [0, 0.5, 1.0, 1.5], "ticks": false, "labelPadding": 8, "labelExpr": "datum.value == 0 ? '0' : format(datum.value, '.1f')"}},
        "y": {"field": "y", "type": "quantitative", "scale": {"domain": [0, 1], "nice": false, "zero": false},
              "axis": {"orient": "left", "title": null, "values": [0, 0.1, 0.2, 0.3, 0.4, 0.5, 0.6, 0.7, 0.8, 0.9, 1.0], "ticks": false, "labelPadding": 21, "labelExpr": "datum.value == 0 ? '0' : format(datum.value, '.1f')"}},
        "text": {"field": "label"}
      }
    },
    {
      "data": {"name": "rotSub"},
      "mark": {"type": "text", "align": "left", "baseline": "alphabetic", "angle": 270, "fontSize": 34, "font": "Liberation Sans", "color": "black"},
      "encoding": {
        "x": {"field": "x", "type": "quantitative", "scale": {"domain": [0, 1.5], "nice": false, "zero": false},
              "axis": {"orient": "bottom", "title": null, "values": [0, 0.5, 1.0, 1.5], "ticks": false, "labelPadding": 8, "labelExpr": "datum.value == 0 ? '0' : format(datum.value, '.1f')"}},
        "y": {"field": "y", "type": "quantitative", "scale": {"domain": [0, 1], "nice": false, "zero": false},
              "axis": {"orient": "left", "title": null, "values": [0, 0.1, 0.2, 0.3, 0.4, 0.5, 0.6, 0.7, 0.8, 0.9, 1.0], "ticks": false, "labelPadding": 21, "labelExpr": "datum.value == 0 ? '0' : format(datum.value, '.1f')"}},
        "text": {"field": "label"}
      }
    }
  ]
}
